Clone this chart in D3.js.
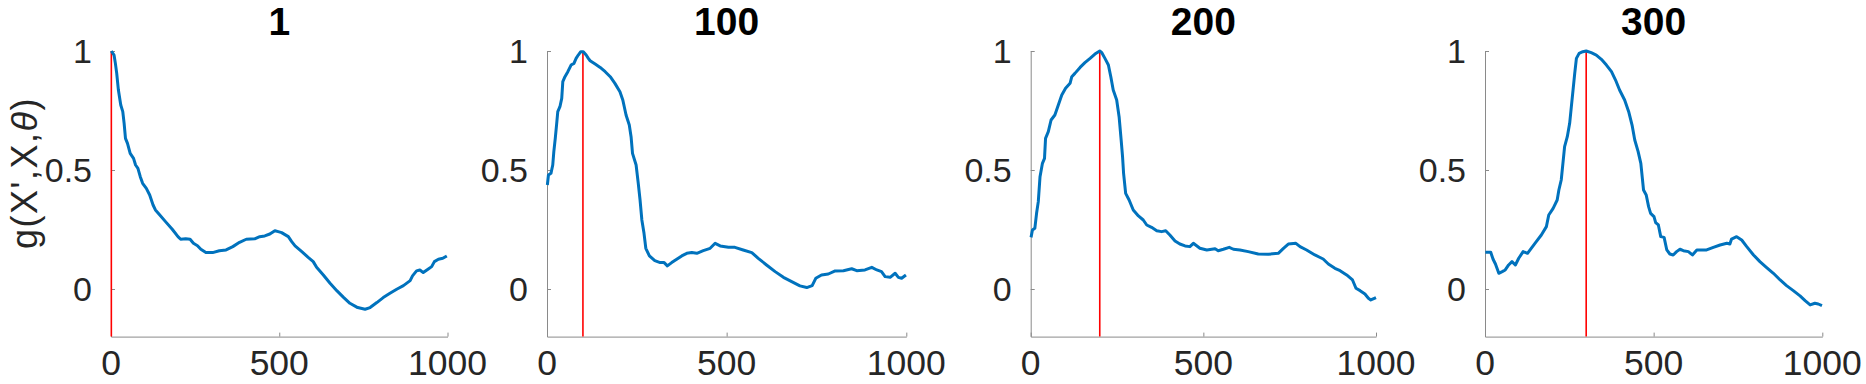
<!DOCTYPE html>
<html>
<head>
<meta charset="utf-8">
<script src="https://cdn.jsdelivr.net/npm/d3@7"></script>
<style>
  body { margin: 0; background: #fff; }
  svg { display: block; }
  text { font-family: "Liberation Sans", Arial, sans-serif; }
</style>
</head>
<body>
<svg id="chart" width="1866" height="384"></svg>
<script>
// panel titles and the position of the red marker line
var titles = ["1", "100", "200", "300"];
var markers = [1, 100, 200, 300];
var xTicks = [0, 500, 1000];
var yTicks = [0, 0.5, 1];

// values (index, g)
var idx1 = [1, 9, 13, 17, 22, 29, 35, 39, 43, 49, 57, 67, 73, 80, 87, 94, 105, 115, 125, 132, 145, 162, 182, 199, 207, 222, 235, 245, 257, 267, 282, 302, 322, 342, 362, 382, 402, 427, 442, 457, 472, 487, 497, 507, 527, 537, 547, 567, 586, 601, 611, 631, 651, 671, 691, 710, 733, 755, 770, 790, 809, 829, 849, 869, 889, 896, 908, 918, 928, 943, 953, 961, 973, 986, 998];
var g1 = [1.0, 0.983, 0.948, 0.906, 0.836, 0.773, 0.745, 0.696, 0.633, 0.612, 0.570, 0.549, 0.521, 0.507, 0.472, 0.444, 0.423, 0.395, 0.353, 0.332, 0.311, 0.283, 0.251, 0.220, 0.209, 0.211, 0.209, 0.192, 0.182, 0.167, 0.153, 0.153, 0.161, 0.164, 0.178, 0.196, 0.209, 0.211, 0.220, 0.223, 0.231, 0.245, 0.241, 0.237, 0.220, 0.199, 0.181, 0.157, 0.133, 0.115, 0.091, 0.059, 0.024, -0.007, -0.035, -0.060, -0.078, -0.085, -0.078, -0.057, -0.036, -0.018, -0.001, 0.014, 0.035, 0.055, 0.076, 0.080, 0.069, 0.084, 0.094, 0.115, 0.125, 0.129, 0.139];

var idx2 = [1, 4, 11, 16, 19, 23, 27, 30, 36, 41, 44, 50, 58, 67, 75, 81, 87, 94, 101, 109, 115, 120, 134, 148, 162, 176, 189, 203, 211, 220, 229, 234, 238, 248, 254, 259, 264, 270, 275, 285, 300, 315, 326, 335, 347, 361, 375, 389, 403, 417, 435, 454, 468, 482, 505, 523, 546, 570, 588, 611, 635, 658, 681, 704, 723, 738, 748, 764, 783, 802, 825, 848, 862, 885, 904, 918, 931, 941, 955, 969, 978, 987, 999];
var g2 = [0.437, 0.479, 0.486, 0.521, 0.577, 0.633, 0.696, 0.745, 0.766, 0.801, 0.871, 0.892, 0.913, 0.941, 0.948, 0.969, 0.983, 0.997, 0.997, 0.983, 0.969, 0.959, 0.945, 0.931, 0.913, 0.892, 0.864, 0.829, 0.794, 0.731, 0.689, 0.640, 0.570, 0.521, 0.444, 0.374, 0.290, 0.234, 0.171, 0.139, 0.119, 0.111, 0.111, 0.097, 0.111, 0.125, 0.139, 0.150, 0.153, 0.150, 0.161, 0.171, 0.192, 0.181, 0.175, 0.175, 0.164, 0.153, 0.129, 0.101, 0.073, 0.049, 0.031, 0.013, 0.006, 0.014, 0.045, 0.059, 0.063, 0.076, 0.077, 0.085, 0.077, 0.080, 0.091, 0.080, 0.073, 0.052, 0.049, 0.066, 0.049, 0.045, 0.059];

var idx3 = [1, 5, 12, 17, 22, 27, 34, 40, 43, 51, 59, 70, 80, 90, 101, 114, 119, 128, 143, 157, 172, 186, 200, 206, 215, 225, 232, 239, 249, 256, 262, 266, 269, 275, 285, 297, 312, 326, 336, 350, 365, 379, 391, 403, 418, 432, 447, 461, 471, 490, 510, 534, 543, 558, 575, 587, 606, 630, 659, 688, 717, 732, 746, 768, 780, 799, 823, 847, 862, 881, 896, 915, 932, 942, 954, 968, 978, 985, 1000];
var g3 = [0.217, 0.248, 0.255, 0.318, 0.367, 0.472, 0.528, 0.549, 0.633, 0.661, 0.710, 0.731, 0.773, 0.815, 0.843, 0.864, 0.892, 0.906, 0.931, 0.951, 0.969, 0.987, 1.0, 0.993, 0.969, 0.941, 0.892, 0.836, 0.794, 0.724, 0.626, 0.556, 0.486, 0.402, 0.374, 0.332, 0.307, 0.290, 0.269, 0.259, 0.245, 0.241, 0.245, 0.227, 0.202, 0.189, 0.181, 0.178, 0.192, 0.171, 0.164, 0.169, 0.161, 0.167, 0.175, 0.167, 0.164, 0.157, 0.147, 0.146, 0.150, 0.171, 0.189, 0.192, 0.178, 0.164, 0.143, 0.126, 0.105, 0.087, 0.077, 0.059, 0.038, 0.003, -0.007, -0.021, -0.039, -0.046, -0.036];

var idx4 = [1, 17, 24, 31, 41, 51, 60, 70, 80, 90, 100, 113, 126, 137, 152, 167, 182, 189, 202, 214, 219, 226, 231, 236, 244, 251, 256, 261, 266, 271, 279, 290, 300, 315, 330, 345, 360, 375, 387, 399, 414, 426, 436, 444, 454, 462, 466, 470, 478, 485, 491, 501, 506, 514, 521, 531, 539, 548, 558, 568, 578, 588, 603, 615, 628, 642, 657, 677, 697, 717, 726, 731, 746, 761, 776, 796, 815, 835, 855, 875, 894, 914, 934, 949, 964, 978, 988, 999];
var g4 = [0.154, 0.154, 0.125, 0.105, 0.066, 0.073, 0.080, 0.101, 0.115, 0.101, 0.129, 0.157, 0.150, 0.171, 0.199, 0.227, 0.262, 0.311, 0.339, 0.374, 0.416, 0.458, 0.528, 0.598, 0.640, 0.696, 0.766, 0.836, 0.906, 0.969, 0.990, 0.997, 1.0, 0.993, 0.983, 0.965, 0.941, 0.913, 0.878, 0.836, 0.794, 0.745, 0.689, 0.626, 0.577, 0.528, 0.472, 0.416, 0.395, 0.346, 0.318, 0.304, 0.279, 0.269, 0.220, 0.217, 0.164, 0.147, 0.143, 0.157, 0.167, 0.161, 0.157, 0.143, 0.164, 0.164, 0.164, 0.175, 0.185, 0.192, 0.189, 0.210, 0.220, 0.206, 0.178, 0.143, 0.115, 0.090, 0.066, 0.038, 0.014, -0.007, -0.029, -0.049, -0.067, -0.060, -0.063, -0.070];

var series = [[idx1, g1], [idx2, g2], [idx3, g3], [idx4, g4]];

// axes boxes in pixels (MATLAB subplots are not all the same width)
var lefts = [111, 547, 1030.7, 1485];
var widths = [336.5, 359.3, 345.3, 337.3];
var plotTop = 51, plotBottom = 336.6;

var svg = d3.select("#chart");

series.forEach(function (s, i) {
  var x = d3.scaleLinear().domain([0, 1000]).range([lefts[i], lefts[i] + widths[i]]);
  var y = d3.scaleLinear().domain([-0.2, 1]).range([plotBottom, plotTop]);

  var data = s[0].map(function (v, k) { return { x: v, y: s[1][k] }; });

  var panel = svg.append("g");

  // x axis, ticks pointing inward
  panel.append("g")
    .attr("transform", "translate(0," + plotBottom + ")")
    .call(d3.axisBottom(x).tickValues(xTicks).tickSize(-4).tickSizeOuter(0).tickFormat(""))
    .call(function (g) {
      g.selectAll("line, path").attr("stroke", "#8a8a8a");
    });

  // y axis
  panel.append("g")
    .attr("transform", "translate(" + lefts[i] + ",0)")
    .call(d3.axisLeft(y).tickValues(yTicks).tickSize(-4).tickSizeOuter(0).tickFormat(""))
    .call(function (g) {
      g.selectAll("line, path").attr("stroke", "#8a8a8a");
    });

  // tick labels
  panel.selectAll(".xlab")
    .data(xTicks)
    .join("text")
    .attr("class", "xlab")
    .attr("x", function (d) { return x(d); })
    .attr("y", 375)
    .attr("text-anchor", "middle")
    .attr("font-size", 35.5)
    .attr("fill", "#262626")
    .text(function (d) { return d; });

  panel.selectAll(".ylab")
    .data(yTicks)
    .join("text")
    .attr("class", "ylab")
    .attr("x", lefts[i] - 19)
    .attr("y", function (d) { return y(d); })
    .attr("dy", "0.35em")
    .attr("text-anchor", "end")
    .attr("font-size", 34)
    .attr("fill", "#262626")
    .text(function (d) { return d; });

  // red marker line
  panel.append("line")
    .attr("x1", x(markers[i]))
    .attr("x2", x(markers[i]))
    .attr("y1", y(-0.2))
    .attr("y2", y(1))
    .attr("stroke", "#ff0000")
    .attr("stroke-width", 1.6);

  // the curve
  panel.append("path")
    .datum(data)
    .attr("fill", "none")
    .attr("stroke", "#0072bd")
    .attr("stroke-width", 3)
    .attr("stroke-linejoin", "round")
    .attr("d", d3.line().x(function (d) { return x(d.x); }).y(function (d) { return y(d.y); }));

  // title
  panel.append("text")
    .attr("x", lefts[i] + widths[i] / 2)
    .attr("y", 35)
    .attr("text-anchor", "middle")
    .attr("font-size", 39)
    .attr("font-weight", "bold")
    .attr("fill", "#000")
    .text(titles[i]);
});

// y axis label on the first panel
var ylabel = svg.append("text")
  .attr("transform", "translate(37,173) rotate(-90)")
  .attr("text-anchor", "middle")
  .attr("font-size", 36)
  .attr("letter-spacing", "1.5px")
  .attr("fill", "#262626");
ylabel.append("tspan").text("g(X',X,");
ylabel.append("tspan").attr("font-style", "italic").text("θ");
ylabel.append("tspan").text(")");
</script>
</body>
</html>
